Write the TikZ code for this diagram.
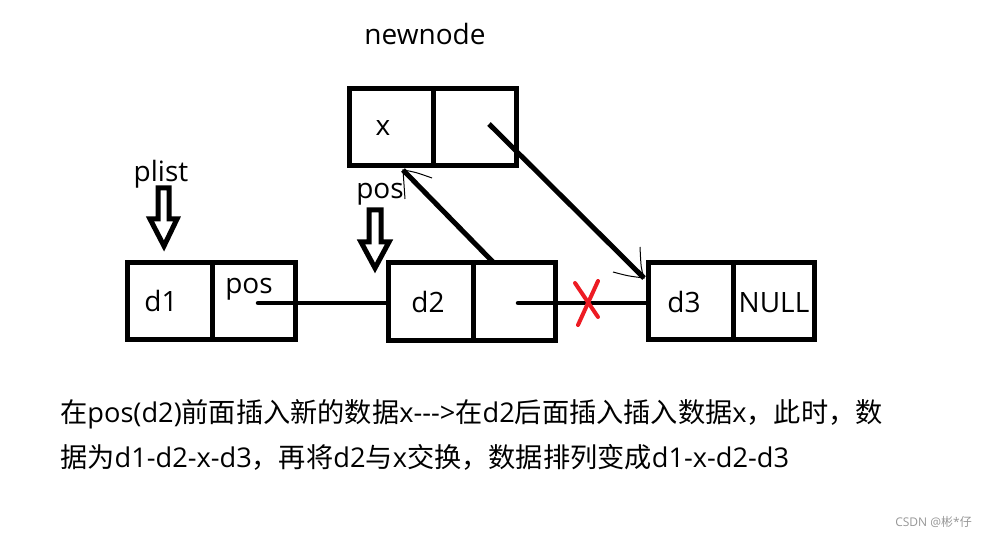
\documentclass[tikz,border=0pt]{standalone}
\usepackage{fontspec}
\setmainfont{Open Sans}
\newfontfamily\cjk{Noto Sans CJK SC}
\begin{document}
\begin{tikzpicture}[x=1pt,y=-1pt,
  cell/.style={draw, line width=5pt, inner sep=0pt, minimum height=77pt},
  lbl/.style={font=\fontsize{28}{32}\selectfont, inner sep=0pt, anchor=base},
  txt/.style={font=\fontsize{27.2}{32}\selectfont, inner sep=0pt, anchor=base west},
  link/.style={line width=4.5pt, line cap=round},
  tipline/.style={line width=1pt},
  hollow/.style={draw, line width=5pt, fill=white, line join=miter},
  redx/.style={draw=xred, line width=4pt, line cap=round}]
\definecolor{xred}{RGB}{237,28,36}
\definecolor{wm}{RGB}{150,150,150}
\useasboundingbox (0,0) rectangle (982,537);

% newnode
\node[cell, minimum width=84pt] (na) at (391,127) {};
\node[cell, minimum width=83pt] (nb) at (474.5,127) {};
% d1
\node[cell, minimum width=85pt] (d1a) at (169.5,301) {};
\node[cell, minimum width=83pt] (d1b) at (253.5,301) {};
% d2
\node[cell, minimum width=85pt] (d2a) at (430.5,301.5) {};
\node[cell, minimum width=82pt] (d2b) at (514,301.5) {};
% d3
\node[cell, minimum width=85pt] (d3a) at (690.5,301) {};
\node[cell, minimum width=81pt] (d3b) at (773.5,301) {};

% labels
\node[lbl] (tnew) at (425,45) {newnode};
\node[lbl] (tx) at (383,136) {x};
\node[lbl] (tplist) at (161,182) {plist};
\node[lbl] (tpos2) at (380,199) {pos};
\node[lbl] (td1) at (161,311) {d1};
\node[lbl] (tpos1) at (249,293) {pos};
\node[lbl] (td2) at (428,312) {d2};
\node[lbl] (td3) at (684,312) {d3};
\node[lbl] (tnull) at (774,312) {NULL};

% hollow block arrows
\path[hollow] (158,188) -- (169,188) -- (169,219) -- (177,219) -- (164,246) -- (150,219) -- (158,219) -- cycle;
\path[hollow] (369,210) -- (381,210) -- (381,242) -- (389,242) -- (375,268) -- (361,242) -- (369,242) -- cycle;

% connectors
\coordinate (s1) at (258,303);
\coordinate (s2) at (518,303);
\coordinate (s3) at (493,262);
\coordinate (t3) at (403,170);
\coordinate (s4) at (489,124);
\coordinate (t4) at (644,278);
\draw[link] (s1) -- (s1 -| d2a.west);
\draw[link] (s2) -- (s2 -| d3a.west);
\draw[link, line width=5pt, line cap=butt] (s3) -- (t3);
\draw[tipline] (432,178) .. controls (415,172) .. (t3) -- (405,199);
\draw[link, line width=5pt, line cap=butt] (s4) -- (t4);
\draw[tipline] (640,247) .. controls (641,268) .. (t4) .. controls (628,276) .. (613,272);

% red cross
\draw[redx] (575,283) -- (598,317);
\draw[redx] (598,281) -- (578,325);

% description
\node[txt] (l1) at (60,422) {{\cjk 在}pos(d2){\cjk 前面插入新的数据}x{-}{-}{-}>{\cjk 在}d2{\cjk 后面插入插入数据}x{\cjk ，此时，数}};
\node[txt] (l2) at (60,467) {{\cjk 据为}d1-d2-x-d3{\cjk ，再将}d2{\cjk 与}x{\cjk 交换，数据排列变成}d1-x-d2-d3};

% watermark
\node[inner sep=0pt, anchor=base east, text=wm, font=\fontsize{12}{14}\selectfont] (wmk) at (972,526) {CSDN @{\cjk 彬}*{\cjk 仔}};
\end{tikzpicture}
\end{document}
